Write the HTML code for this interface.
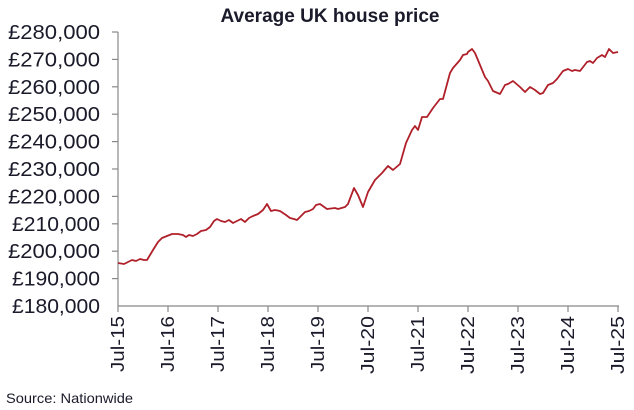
<!DOCTYPE html>
<html><head><meta charset="utf-8"><style>
body{margin:0;background:#fff;}
svg{display:block;}
text{font-family:"Liberation Sans",sans-serif;fill:#1a1a2a;}
</style></head><body>
<svg width="634" height="410" viewBox="0 0 634 410">
<text x="330" y="22" text-anchor="middle" font-size="19" font-weight="bold" fill="#12122a">Average UK house price</text>
<g stroke="#888" stroke-width="1.2">
<line x1="118" y1="32" x2="118" y2="306"/>
<line x1="118" y1="306" x2="619" y2="306"/>
<line x1="112" y1="32" x2="118" y2="32"/><line x1="112" y1="59.4" x2="118" y2="59.4"/><line x1="112" y1="86.8" x2="118" y2="86.8"/><line x1="112" y1="114.2" x2="118" y2="114.2"/><line x1="112" y1="141.6" x2="118" y2="141.6"/><line x1="112" y1="169" x2="118" y2="169"/><line x1="112" y1="196.4" x2="118" y2="196.4"/><line x1="112" y1="223.8" x2="118" y2="223.8"/><line x1="112" y1="251.2" x2="118" y2="251.2"/><line x1="112" y1="278.6" x2="118" y2="278.6"/>
<line x1="118" y1="306" x2="118" y2="312"/><line x1="168" y1="306" x2="168" y2="312"/><line x1="218" y1="306" x2="218" y2="312"/><line x1="268" y1="306" x2="268" y2="312"/><line x1="318" y1="306" x2="318" y2="312"/><line x1="368" y1="306" x2="368" y2="312"/><line x1="418" y1="306" x2="418" y2="312"/><line x1="468" y1="306" x2="468" y2="312"/><line x1="518" y1="306" x2="518" y2="312"/><line x1="568" y1="306" x2="568" y2="312"/><line x1="618" y1="306" x2="618" y2="312"/>
</g>
<g font-size="20" text-anchor="end">
<text x="100" y="39" textLength="92" lengthAdjust="spacingAndGlyphs">£280,000</text><text x="100" y="66.4" textLength="92" lengthAdjust="spacingAndGlyphs">£270,000</text><text x="100" y="93.8" textLength="92" lengthAdjust="spacingAndGlyphs">£260,000</text><text x="100" y="121.2" textLength="92" lengthAdjust="spacingAndGlyphs">£250,000</text><text x="100" y="148.6" textLength="92" lengthAdjust="spacingAndGlyphs">£240,000</text><text x="100" y="176" textLength="92" lengthAdjust="spacingAndGlyphs">£230,000</text><text x="100" y="203.4" textLength="92" lengthAdjust="spacingAndGlyphs">£220,000</text><text x="100" y="230.8" textLength="88" lengthAdjust="spacingAndGlyphs">£210,000</text><text x="100" y="258.2" textLength="92" lengthAdjust="spacingAndGlyphs">£200,000</text><text x="100" y="285.6" textLength="88" lengthAdjust="spacingAndGlyphs">£190,000</text><text x="100" y="313" textLength="88" lengthAdjust="spacingAndGlyphs">£180,000</text>
</g>
<g font-size="18" text-anchor="end">
<text transform="translate(124,316) rotate(-90)" textLength="56" lengthAdjust="spacingAndGlyphs">Jul-15</text>
<text transform="translate(174,316) rotate(-90)" textLength="56" lengthAdjust="spacingAndGlyphs">Jul-16</text>
<text transform="translate(224,316) rotate(-90)" textLength="56" lengthAdjust="spacingAndGlyphs">Jul-17</text>
<text transform="translate(274,316) rotate(-90)" textLength="56" lengthAdjust="spacingAndGlyphs">Jul-18</text>
<text transform="translate(324,316) rotate(-90)" textLength="56" lengthAdjust="spacingAndGlyphs">Jul-19</text>
<text transform="translate(374,316) rotate(-90)" textLength="58" lengthAdjust="spacingAndGlyphs">Jul-20</text>
<text transform="translate(424,316) rotate(-90)" textLength="56" lengthAdjust="spacingAndGlyphs">Jul-21</text>
<text transform="translate(474,316) rotate(-90)" textLength="58" lengthAdjust="spacingAndGlyphs">Jul-22</text>
<text transform="translate(524,316) rotate(-90)" textLength="58" lengthAdjust="spacingAndGlyphs">Jul-23</text>
<text transform="translate(574,316) rotate(-90)" textLength="58" lengthAdjust="spacingAndGlyphs">Jul-24</text>
<text transform="translate(624,316) rotate(-90)" textLength="58" lengthAdjust="spacingAndGlyphs">Jul-25</text>
</g>
<text x="6" y="403" font-size="14" textLength="127" lengthAdjust="spacingAndGlyphs">Source: Nationwide</text>
<polyline fill="none" stroke="#b0202a" stroke-width="1.8" stroke-linejoin="round" points="118,263 124,264 128,262 132,260 136,261 140,259 144,260 147,260 150,255 153,250 158,242 162,238 167,236 172,234 178,234 183,235 186,237 189,235 193,236 197,234 201,231 206,230 210,227 214,221 217,219 221,221 225,222 229,220 233,223 237,221 241,219 245,222 249,218 253,216 258,214 263,210 267,204 271,211 275,210 280,211 286,215 290,218 294,219 297,220 301,216 305,212 309,211 313,209 316,205 320,204 327,209 335,208 338,209 345,207 348,204 354,188 358,195 363,207 368,192 375,180 382,173 388,166 393,170 400,164 406,143 412,130 415,126 418,130 422,117 427,117 433,108 440,99 443,99 450,73 453,68 460,60 463,55 467,54 468,52 472,49 475,53 480,65 485,77 488,81 493,91 500,94 505,85 508,84 513,81 520,87 525,92 530,87 535,90 540,94 543,93 548,85 553,83 557,79 563,71 568,69 572,71 575,70 580,71 587,62 590,61 593,63 597,58 602,55 605,57 609,49 613,53 618,52"/>
</svg>
</body></html>
